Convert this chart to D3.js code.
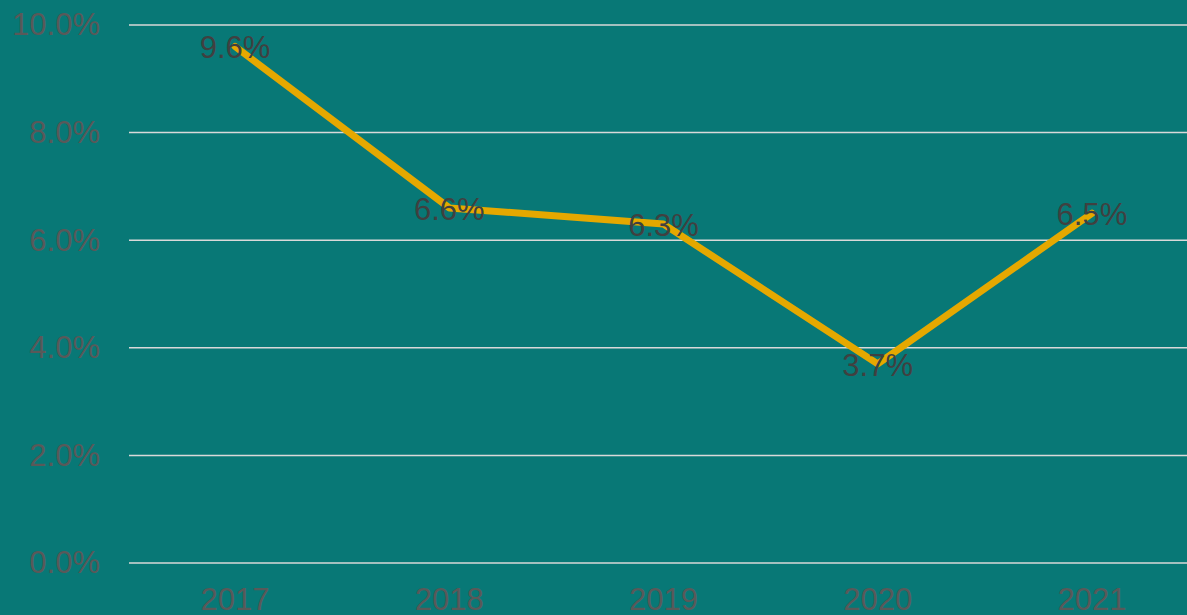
<!DOCTYPE html>
<html>
<head>
<meta charset="utf-8">
<script src="https://cdn.jsdelivr.net/npm/d3@7"></script>
<style>
  html, body { margin: 0; padding: 0; background: #087876; overflow: hidden; }
  text { font-family: "Liberation Sans", Arial, sans-serif; }
</style>
</head>
<body>
<div class="canvas"></div>
<script>
const years = ["2017", "2018", "2019", "2020", "2021"];
const rates = [9.6, 6.6, 6.3, 3.7, 6.5];
const yTicks = [0, 2, 4, 6, 8, 10];

const dims = { width: 1187, height: 615 };
const margin = { left: 128, top: 25, bottom: 52 };
const fontSize = 31;

const svg = d3
  .select(".canvas")
  .append("svg")
  .attr("width", dims.width)
  .attr("height", dims.height);

svg.append("rect")
  .attr("width", dims.width)
  .attr("height", dims.height)
  .attr("fill", "#087876");

const x = d3
  .scaleBand()
  .domain(years)
  .range([margin.left, 1199]);

const y = d3
  .scaleLinear()
  .domain([0, 10])
  .range([dims.height - margin.bottom, margin.top]);

// gridlines
svg.append("g")
  .selectAll("line")
  .data(yTicks)
  .join("line")
  .attr("x1", 129)
  .attr("x2", dims.width)
  .attr("y1", (d) => y(d))
  .attr("y2", (d) => y(d))
  .attr("stroke", "#d9d9d9")
  .attr("stroke-width", 1.5);

// y axis labels
const yAxis = d3.axisLeft(y)
  .tickValues(yTicks)
  .tickSize(0)
  .tickPadding(0)
  .tickFormat((d) => d.toFixed(1) + "%");

svg.append("g")
  .attr("transform", "translate(100,0)")
  .call(yAxis)
  .call((g) => g.select(".domain").remove())
  .selectAll("text")
  .attr("fill", "#595959")
  .attr("font-size", fontSize);

// x axis labels
const xAxis = d3.axisBottom(x).tickSize(0).tickPadding(0);

svg.append("g")
  .attr("transform", `translate(0,${dims.height - margin.bottom + 25})`)
  .call(xAxis)
  .call((g) => g.select(".domain").remove())
  .selectAll("text")
  .attr("fill", "#595959")
  .attr("font-size", fontSize);

// line
const line = d3.line()
  .x((d, i) => x(years[i]) + x.bandwidth() / 2)
  .y((d) => y(d));

svg.append("path")
  .datum(rates)
  .attr("d", line)
  .attr("fill", "none")
  .attr("stroke", "#e5a800")
  .attr("stroke-width", 7)
  .attr("stroke-linejoin", "round")
  .attr("stroke-linecap", "round");

// data labels
svg.append("g")
  .selectAll("text")
  .data(rates)
  .join("text")
  .attr("x", (d, i) => x(years[i]) + x.bandwidth() / 2)
  .attr("y", (d) => y(d) + 1)
  .attr("dy", "0.35em")
  .attr("text-anchor", "middle")
  .attr("fill", "#404040")
  .attr("font-size", fontSize)
  .text((d) => d.toFixed(1) + "%");
</script>
</body>
</html>
